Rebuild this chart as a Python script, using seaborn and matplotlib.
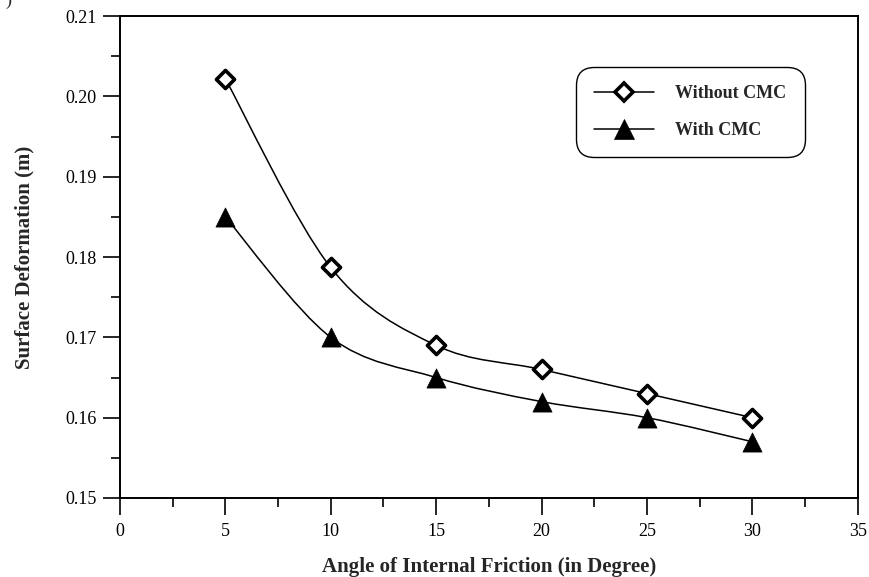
import numpy as np
import pandas as pd
import matplotlib
matplotlib.use("Agg")
import matplotlib.pyplot as plt
from matplotlib.path import Path
from matplotlib.patches import PathPatch
from matplotlib.lines import Line2D
from matplotlib.ticker import MultipleLocator, FormatStrFormatter
import seaborn as sns

# 데이터
angle = [5, 10, 15, 20, 25, 30]
without_cmc = [0.2022, 0.1787, 0.1690, 0.1660, 0.1630, 0.1600]
with_cmc = [0.1850, 0.1700, 0.1650, 0.1620, 0.1600, 0.1570]
labels = ["Without CMC", "With CMC"]

sns.set_theme(style="ticks")
plt.rcParams["font.family"] = ["Liberation Serif", "DejaVu Serif"]

df = pd.concat([
    pd.DataFrame({"angle": angle, "def": without_cmc, "case": labels[0]}),
    pd.DataFrame({"angle": angle, "def": with_cmc, "case": labels[1]}),
])


def smooth_path(xs, ys):
    """Catmull-Rom 스타일 곡선 -> 베지어 경로 (데이터 좌표)"""
    p = np.column_stack([xs, ys]).astype(float)
    n = len(p)
    verts, codes = [p[0]], [Path.MOVETO]
    for i in range(n - 1):
        p0 = p[i - 1] if i > 0 else p[i]
        p3 = p[i + 2] if i + 2 < n else p[i + 1]
        c1 = p[i] + (p[i + 1] - p0) / 6
        c2 = p[i + 1] - (p3 - p[i]) / 6
        verts += [c1, c2, p[i + 1]]
        codes += [Path.CURVE4] * 3
    return Path(verts, codes)


fig = plt.figure(figsize=(8.69, 5.77), dpi=100)
ax = fig.add_axes([0.138, 0.137, 0.849, 0.835])

for ys in (without_cmc, with_cmc):
    ax.add_patch(PathPatch(smooth_path(angle, ys), fill=False, ec="black", lw=1.1, zorder=2))

# 마름모: 흰 속 + 두꺼운 테두리 / 삼각형: 검정 채움
sns.scatterplot(x=angle, y=without_cmc, marker="D", s=85, color="white",
                edgecolor="black", linewidth=2.6, ax=ax, zorder=3)
sns.scatterplot(x=angle, y=with_cmc, marker="^", s=190, color="black",
                edgecolor="black", linewidth=0.5, ax=ax, zorder=3)

ax.set_xlim(0, 35)
ax.set_ylim(0.15, 0.21)
ax.xaxis.set_major_locator(MultipleLocator(5))
ax.xaxis.set_minor_locator(MultipleLocator(2.5))
ax.yaxis.set_major_locator(MultipleLocator(0.01))
ax.yaxis.set_minor_locator(MultipleLocator(0.005))
ax.yaxis.set_major_formatter(FormatStrFormatter("%.2f"))
ax.tick_params(which="major", direction="out", length=12, width=1.2, labelsize=13,
               color="black", labelcolor="black")
ax.tick_params(which="minor", direction="out", length=6.5, width=1.2, color="black")
ax.tick_params(axis="y", pad=5)
ax.tick_params(axis="x", pad=6)
for sp in ax.spines.values():
    sp.set_visible(True)
    sp.set_linewidth(1.4)
    sp.set_color("black")

ax.set_xlabel("Angle of Internal Friction (in Degree)", fontsize=15, fontweight="bold", labelpad=12)
ax.set_ylabel("Surface Deformation (m)", fontsize=15, fontweight="bold", labelpad=22)

handles = [
    Line2D([], [], color="black", lw=1.1, marker="D", ms=9, mfc="white", mec="black", mew=2.6),
    Line2D([], [], color="black", lw=1.1, marker="^", ms=14, mfc="black", mec="black", mew=0.5),
]
leg = ax.legend(handles, labels, loc="upper right", bbox_to_anchor=(0.928, 0.894),
                prop={"weight": "bold", "size": 13}, handlelength=3.3, handletextpad=1.2,
                labelspacing=1.1, borderpad=1.0, borderaxespad=0, frameon=True, fancybox=True)
frame = leg.get_frame()
frame.set_edgecolor("black")
frame.set_linewidth(1.0)
frame.set_alpha(1)
frame.set_boxstyle("round,pad=0,rounding_size=1.0")

fig.text(0.006, 1.0, ")", fontsize=13, ha="left", va="center")

fig.savefig("out.png", dpi=100)
